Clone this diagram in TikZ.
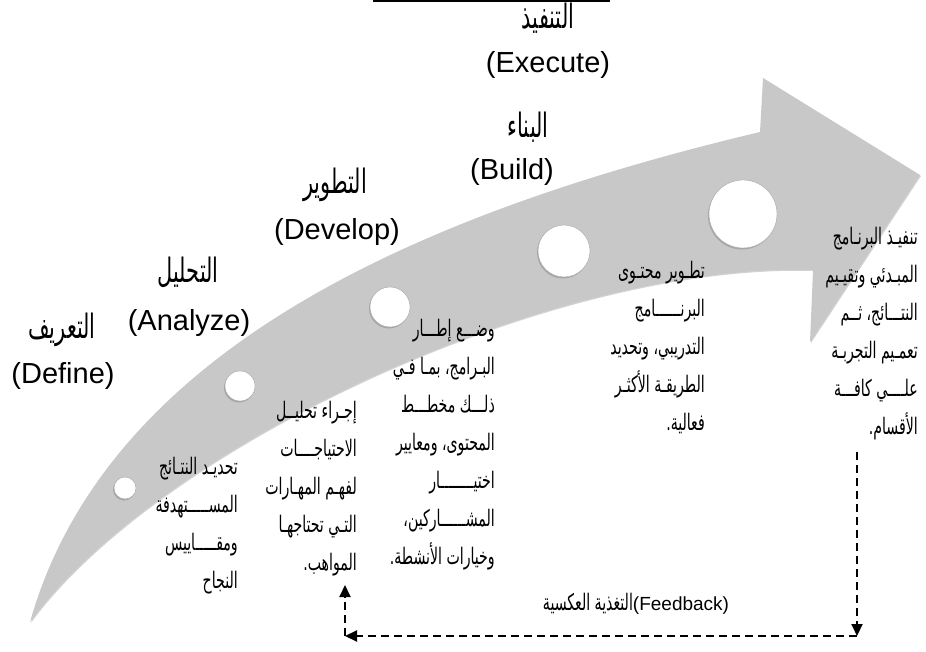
\documentclass[tikz,border=0pt]{standalone}
\usepackage{fontspec}
\setmainfont{Liberation Sans}
\newfontfamily\arabicfont[Script=Arabic,Scale=1.2,FakeStretch=0.62]{DejaVu Sans}
\TeXXeTstate=1
\usetikzlibrary{arrows.meta}
\usetikzlibrary{shadows}
\definecolor{bandgray}{RGB}{200,200,200}
\newcommand{\artxt}[1]{{\arabicfont\beginR #1\endR}}

\begin{document}
\begin{tikzpicture}[x=1pt,y=-1pt,>={Triangle[length=12pt,width=11pt]},
    stage/.style={circle,draw=gray!70,fill=white,inner sep=0pt,
        drop shadow={shadow xshift=-1pt,shadow yshift=-1.5pt,opacity=0.45}},
    headar/.style={font=\fontsize{28}{34}\selectfont},
    headen/.style={font=\fontsize{29}{32}\selectfont},
    coltxt/.style={anchor=north east,inner sep=0pt,align=right,font=\fontsize{19}{38}\selectfont},
    fb/.style={line width=2pt,dash pattern=on 8pt off 5pt}]
    \useasboundingbox (0,0) rectangle (926,652);
    % rule at the top
    \draw[line width=2pt] (373,1) -- (610,1);
    % the curved arrow
    \fill[bandgray,drop shadow={opacity=0.35,shadow xshift=1pt,shadow yshift=-1pt}]
        (30,622) .. controls (108,346) and (427,211) .. (760,132) -- (763,78) -- (920,175)
        -- (810,342) -- (813,270) .. controls (548,262) and (156,449) .. (30,622) -- cycle;
    % stages on the arrow
    \node[stage,minimum size=22pt] (s1) at (125,488) {};
    \node[stage,minimum size=30pt] (s2) at (240,386) {};
    \node[stage,minimum size=40pt] (s3) at (390,307) {};
    \node[stage,minimum size=52pt] (s4) at (564,251) {};
    \node[stage,minimum size=68pt] (s5) at (743,214) {};
    % headings
    \node[headar] (defAr) at (62,330) {\artxt{التعريف}};
    \node[headen] (defEn) at (63,376) {(Define)};
    \node[headar] (anaAr) at (188,272) {\artxt{التحليل}};
    \node[headen] (anaEn) at (189,323) {(Analyze)};
    \node[headar] (devAr) at (335,185) {\artxt{التطوير}};
    \node[headen] (devEn) at (337,232) {(Develop)};
    \node[headar] (bldAr) at (528,127) {\artxt{البناء}};
    \node[headen] (bldEn) at (512,172) {(Build)};
    \node[headar] (exeAr) at (548,18) {\artxt{التنفيذ}};
    \node[headen] (exeEn) at (548,65) {(Execute)};
    % texts under the stages
    \node[coltxt] (defTxt) at (238,457) {\artxt{تحديـد النتـائج}\\\artxt{المســـــتهدفة}\\\artxt{ومقـــــاييس}\\\artxt{النجاح}};
    \node[coltxt] (anaTxt) at (357,401) {\artxt{إجـراء تحليــل}\\\artxt{الاحتياجــــات}\\\artxt{لفهـم المهـارات}\\\artxt{التـي تحتاجهـا}\\\artxt{المواهب.}};
    \node[coltxt] (devTxt) at (495,319) {\artxt{وضـــع إطـــار}\\\artxt{البـرامج، بمـا فـي}\\\artxt{ذلـــك مخطـــط}\\\artxt{المحتوى، ومعايير}\\\artxt{اختيــــــــار}\\\artxt{المشــــــاركين،}\\\artxt{وخيارات الأنشطة.}};
    \node[coltxt] (bldTxt) at (705,261) {\artxt{تطـوير محتـوى}\\\artxt{البرنــــــامج}\\\artxt{التدريبي، وتحديد}\\\artxt{الطريقـة الأكثـر}\\\artxt{فعالية.}};
    \node[coltxt] (exeTxt) at (918,227) {\artxt{تنفيـذ البرنـامج}\\\artxt{المبـدئي وتقيـيم}\\\artxt{النتـــائج، ثــم}\\\artxt{تعمـيم التجربـة}\\\artxt{علــــي كافـــة}\\\artxt{الأقسام.}};
    % feedback loop
    \coordinate (fbTop) at (857,452);
    \coordinate (fbR) at (857,636);
    \coordinate (fbL) at (345,636);
    \coordinate (fbUp) at (345,585);
    \draw[fb,->] (fbTop) -- (fbR);
    \draw[fb,->] (fbR) -- (fbL);
    \draw[fb,->] (fbL) -- (fbUp);
    \node[font=\fontsize{19}{22}\selectfont] (fbLbl) at (636,604) {\artxt{التغذية العكسية}(Feedback)};
\end{tikzpicture}
\end{document}
